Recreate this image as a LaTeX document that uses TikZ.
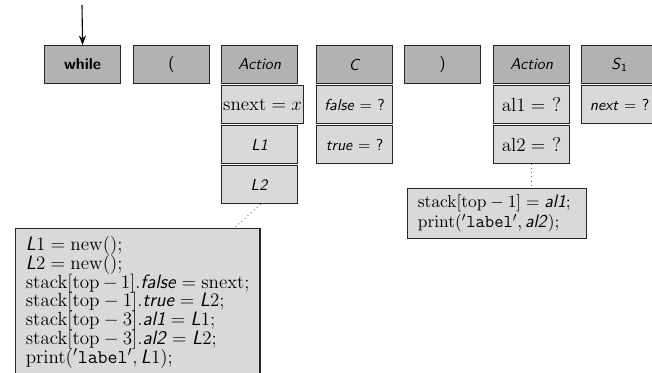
\documentclass[tikz,border=0pt]{standalone}
\usepackage{amsmath}
\usetikzlibrary{arrows.meta}
\newcommand{\sfi}[1]{\textsf{\textit{#1}}}
% tight code listing: fixed line pitch even when brackets are tall
\newcommand{\codefont}{\fontsize{12.2}{11.8}\selectfont\lineskiplimit-6pt\relax}
\begin{document}
\begin{tikzpicture}[x=0.63pt,y=-0.63pt,
  cell/.style={draw=black!85,line width=0.7pt,minimum width=47.9pt,minimum height=23.9pt,
    inner sep=0pt,anchor=north west,font=\sffamily},
  symb/.style={cell,fill=black!30},
  attr/.style={cell,fill=black!15},
  serif/.style={font=\fontsize{12.6}{14}\selectfont},
  code/.style={draw=black!85,line width=0.7pt,fill=black!15,anchor=north west,
    align=left,inner xsep=6.5pt,inner ysep=5pt},
  link/.style={dotted,black!60,line width=0.6pt}]
\useasboundingbox (0,0) rectangle (652,372);

% grammar symbols on the parser stack
\node[symb] (while) at (44,45) {\textbf{while}};
\node[symb] (lpar)  at (133,45) {(};
\node[symb] (act1)  at (221,45) {\textit{Action}};
\node[symb] (cond)  at (316,45) {\textit{C}};
\node[symb] (rpar)  at (404,45) {)};
\node[symb] (act2)  at (493,45) {\textit{Action}};
\node[symb] (stmt)  at (581,45) {\textit{S}\textsubscript{1}};

% attribute records below the symbols
\node[attr,serif,minimum width=51.7pt] (snext) at (221,85) {$\mathrm{snext} = x$};
\node[attr] (l1) at (221,125) {\textit{L1}};
\node[attr] (l2) at (221,165) {\textit{L2}};
\node[attr] (cfalse) at (316,85) {\sfi{false} $=$ ?};
\node[attr] (ctrue)  at (316,125) {\sfi{true} $=$ ?};
\node[attr,serif] (al1) at (493,85) {$\mathrm{al1} =$ ?};
\node[attr,serif] (al2) at (493,125) {$\mathrm{al2} =$ ?};
\node[attr] (snxt) at (581,85) {\sfi{next} $=$ ?};

% code of the two action records
\node[code,text width=141pt,font=\codefont] (codea) at (15,228) {%
$\sfi{L}1 = \mathrm{new}();$\\
$\sfi{L}2 = \mathrm{new}();$\\
$\mathrm{stack}[\mathrm{top}-1].\sfi{false} = \mathrm{snext};$\\
$\mathrm{stack}[\mathrm{top}-1].\sfi{true} = \sfi{L}2;$\\
$\mathrm{stack}[\mathrm{top}-3].\sfi{al1} = \sfi{L}1;$\\
$\mathrm{stack}[\mathrm{top}-3].\sfi{al2} = \sfi{L}2;$\\
$\mathrm{print}({}^{\prime}\texttt{label}^{\prime}, \sfi{L}1);$};
\node[code,text width=100pt,inner ysep=3.8pt,
      font=\fontsize{11.4}{12.8}\selectfont] (codeb) at (407,188) {%
$\mathrm{stack}[\mathrm{top}-1] = \sfi{al1};$\\
$\mathrm{print}({}^{\prime}\texttt{label}^{\prime}, \sfi{al2});$};

% input pointer
\coordinate (ptr) at (82,5);
\draw[-{Stealth[length=6pt,width=4.5pt]},line width=0.7pt] (ptr) -- (while.north);

% dotted links from the actions to their code
\draw[link] (l2.south -| codea.east) -- ([xshift=-16.5pt]codea.north east);
\draw[link] (al2.south) -- (al2.south |- codeb.north);
\end{tikzpicture}
\end{document}
